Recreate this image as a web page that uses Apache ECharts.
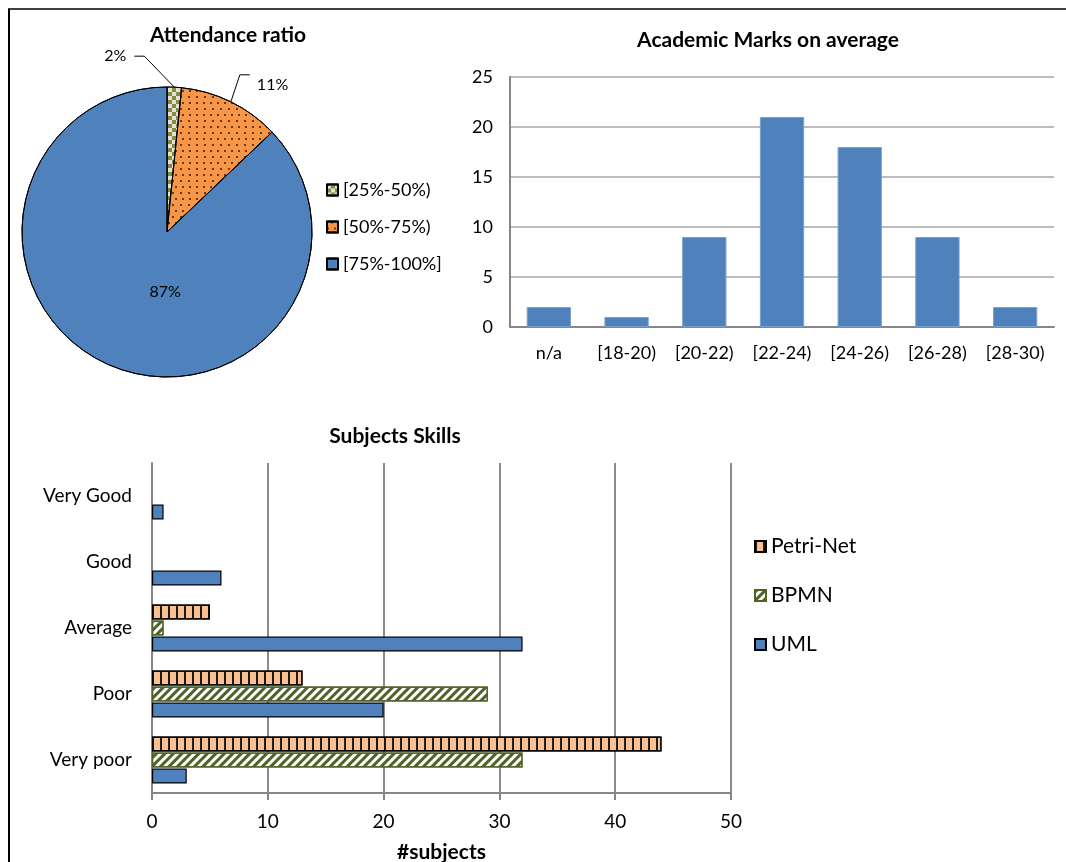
<!DOCTYPE html>
<html>
<head>
<meta charset="utf-8">
<script src="https://cdn.jsdelivr.net/npm/echarts@6/dist/echarts.min.js"></script>
<style>
  html, body { margin: 0; padding: 0; background: #fff; }
  #main { width: 1066px; height: 862px; }
</style>
</head>
<body>
<div id="main"></div>
<script>
var chart = echarts.init(document.getElementById('main'));
var FONT = 'Lato, "Open Sans", sans-serif';

// attendance pie
var attendNames = ['[25%-50%)', '[50%-75%)', '[75%-100%]'];
var attendValues = [1, 7, 54];

// academic marks
var markCats = ['n/a', '[18-20)', '[20-22)', '[22-24)', '[24-26)', '[26-28)', '[28-30)'];
var markValues = [2, 1, 9, 21, 18, 9, 2];

// subjects skills
var skillCats = ['Very poor', 'Poor', 'Average', 'Good', 'Very Good'];
var umlValues = [3, 20, 32, 6, 1];
var bpmnValues = [32, 29, 1, 0, 0];
var petriValues = [44, 13, 5, 0, 0];

var attendTotal = attendValues.reduce(function (a, b) { return a + b; }, 0);
// zero bars are not drawn at all (no border stub)
function noZero(arr) { return arr.map(function (v) { return v === 0 ? '-' : v; }); }

// fill patterns
var checkDecal = { symbol: 'rect', symbolSize: 1, color: '#77933C', dashArrayX: [[4, 4], [0, 4, 4, 0]], dashArrayY: [4, 0] };
var dotDecal = { symbol: 'rect', symbolSize: 0.8, color: '#000', dashArrayX: [[2, 5], [0, 3.5, 2, 1.5]], dashArrayY: [2, 4] };
var stripeDecal = { symbol: 'rect', symbolSize: 1, color: '#1a1a1a', dashArrayX: [2, 6], dashArrayY: [10, 0] };
var hatchDecal = { symbol: 'rect', symbolSize: 1, color: '#4F6228', dashArrayX: [1, 0], dashArrayY: [3, 3], rotation: -Math.PI / 4 };

var pieStyles = [
    { color: '#F2DCDB', borderColor: '#000', borderWidth: 1, decal: checkDecal },
    { color: '#F79646', borderColor: '#000', borderWidth: 1, decal: dotDecal },
    { color: '#4F81BD', borderColor: '#000', borderWidth: 1, decal: { symbol: 'none' } }
];
var pieData = attendNames.map(function (n, i) {
    var d = { name: n, value: attendValues[i], itemStyle: pieStyles[i] };
    if (i === 2) {
        d.label = { position: 'inside' };
        d.labelLine = { show: false };
    }
    return d;
});

var titleStyle = { fontFamily: FONT, fontSize: 21, fontWeight: 'bold', color: '#000' };

var option = {
    animation: false,
    textStyle: { fontFamily: FONT, color: '#000' },
    title: [
        { text: 'Attendance ratio', left: 223, top: 20, textAlign: 'center', textStyle: titleStyle },
        { text: 'Academic Marks on average', left: 763, top: 25, textAlign: 'center', textStyle: titleStyle },
        { text: 'Subjects Skills', left: 390, top: 421, textAlign: 'center', textStyle: titleStyle }
    ],
    legend: [
        { data: attendNames, orient: 'vertical', left: 321, top: 176, itemWidth: 11, itemHeight: 11, itemGap: 19,
          icon: 'rect', textStyle: { fontFamily: FONT, fontSize: 18, color: '#000' } },
        { data: ['Petri-Net', 'BPMN', 'UML'], orient: 'vertical', left: 749, top: 531, itemWidth: 11, itemHeight: 11, itemGap: 28,
          icon: 'rect', textStyle: { fontFamily: FONT, fontSize: 21, color: '#000' } }
    ],
    grid: [
        { left: 510, right: 12, top: 77, bottom: 535, outerBoundsMode: 'none', containLabel: false },
        { left: 152, right: 335, top: 463, bottom: 69, outerBoundsMode: 'none', containLabel: false }
    ],
    xAxis: [
        { gridIndex: 0, type: 'category', data: markCats,
          axisLine: { lineStyle: { color: '#868686', width: 2 } }, axisTick: { show: false },
          axisLabel: { fontFamily: FONT, fontSize: 18, color: '#000', margin: 17 } },
        { gridIndex: 1, type: 'value', min: 0, max: 50, interval: 10,
          name: '#subjects', nameLocation: 'middle', nameGap: 49,
          nameTextStyle: { fontFamily: FONT, fontSize: 21, fontWeight: 'bold', color: '#000' },
          axisLine: { show: true, lineStyle: { color: '#868686', width: 2 } },
          axisTick: { show: true, length: 7, lineStyle: { color: '#868686', width: 2 } },
          splitLine: { show: true, lineStyle: { color: '#8c8c8c', width: 2 } },
          axisLabel: { fontFamily: FONT, fontSize: 19, color: '#000', margin: 19 } }
    ],
    yAxis: [
        { gridIndex: 0, type: 'value', min: 0, max: 25, interval: 5,
          axisLine: { show: true, lineStyle: { color: '#868686', width: 2 } }, axisTick: { show: false },
          splitLine: { lineStyle: { color: '#a6a6a6', width: 1.5 } },
          axisLabel: { fontFamily: FONT, fontSize: 18, color: '#000', margin: 17 } },
        { gridIndex: 1, type: 'category', data: skillCats,
          axisLine: { lineStyle: { color: '#868686', width: 2 } }, axisTick: { show: false },
          axisLabel: { fontFamily: FONT, fontSize: 19, color: '#000', margin: 20 } }
    ],
    series: [
        {
            type: 'pie', name: 'Attendance', center: [167, 232], radius: 145, startAngle: 90,
            data: pieData,
            label: {
                fontFamily: FONT, fontSize: 16, color: '#000',
                formatter: function (p) { return Math.round(p.value / attendTotal * 100) + '%'; }
            },
            labelLine: { show: true, lineStyle: { color: '#000', width: 1 } },
            labelLayout: function (p) {
                if (p.dataIndex === 2) return { dx: 28, dy: -10 };
                var pts = p.labelLinePoints;
                if (!pts) return {};
                var s = pts[0];
                if (p.dataIndex === 0) {
                    var m = [s[0] - 30, s[1] - 31], e = [m[0] - 10, m[1]];
                    return { x: e[0] - 8, y: e[1], align: 'right', verticalAlign: 'middle', labelLinePoints: [s, m, e] };
                }
                var m1 = [s[0] + 9, s[1] - 27], e1 = [m1[0] + 10, m1[1]];
                return { x: e1[0] + 7, y: e1[1] + 10, align: 'left', verticalAlign: 'middle', labelLinePoints: [s, m1, e1] };
            },
            emphasis: { disabled: true }
        },
        {
            type: 'bar', name: 'Marks', xAxisIndex: 0, yAxisIndex: 0, data: markValues, barWidth: '57%',
            itemStyle: { color: '#4F81BD', borderColor: '#7ba0cc', borderWidth: 1 }
        },
        {
            type: 'bar', name: 'Petri-Net', xAxisIndex: 1, yAxisIndex: 1, data: noZero(petriValues),
            barWidth: 15, barGap: '7%',
            itemStyle: { color: '#FAC090', borderColor: '#000', borderWidth: 1.2, decal: stripeDecal }
        },
        {
            type: 'bar', name: 'BPMN', xAxisIndex: 1, yAxisIndex: 1, data: noZero(bpmnValues),
            barWidth: 15, barGap: '7%',
            itemStyle: { color: '#ffffff', borderColor: '#4F6228', borderWidth: 1.2, decal: hatchDecal }
        },
        {
            type: 'bar', name: 'UML', xAxisIndex: 1, yAxisIndex: 1, data: noZero(umlValues),
            barWidth: 15, barGap: '7%',
            itemStyle: { color: '#4F81BD', borderColor: '#000', borderWidth: 1.2 }
        }
    ],
    graphic: [
        { type: 'line', shape: { x1: 8, y1: 9, x2: 1066, y2: 9 }, style: { stroke: '#404040', lineWidth: 2 } },
        { type: 'line', shape: { x1: 9, y1: 9, x2: 9, y2: 862 }, style: { stroke: '#000', lineWidth: 2 } }
    ]
};

chart.setOption(option);
</script>
</body>
</html>
